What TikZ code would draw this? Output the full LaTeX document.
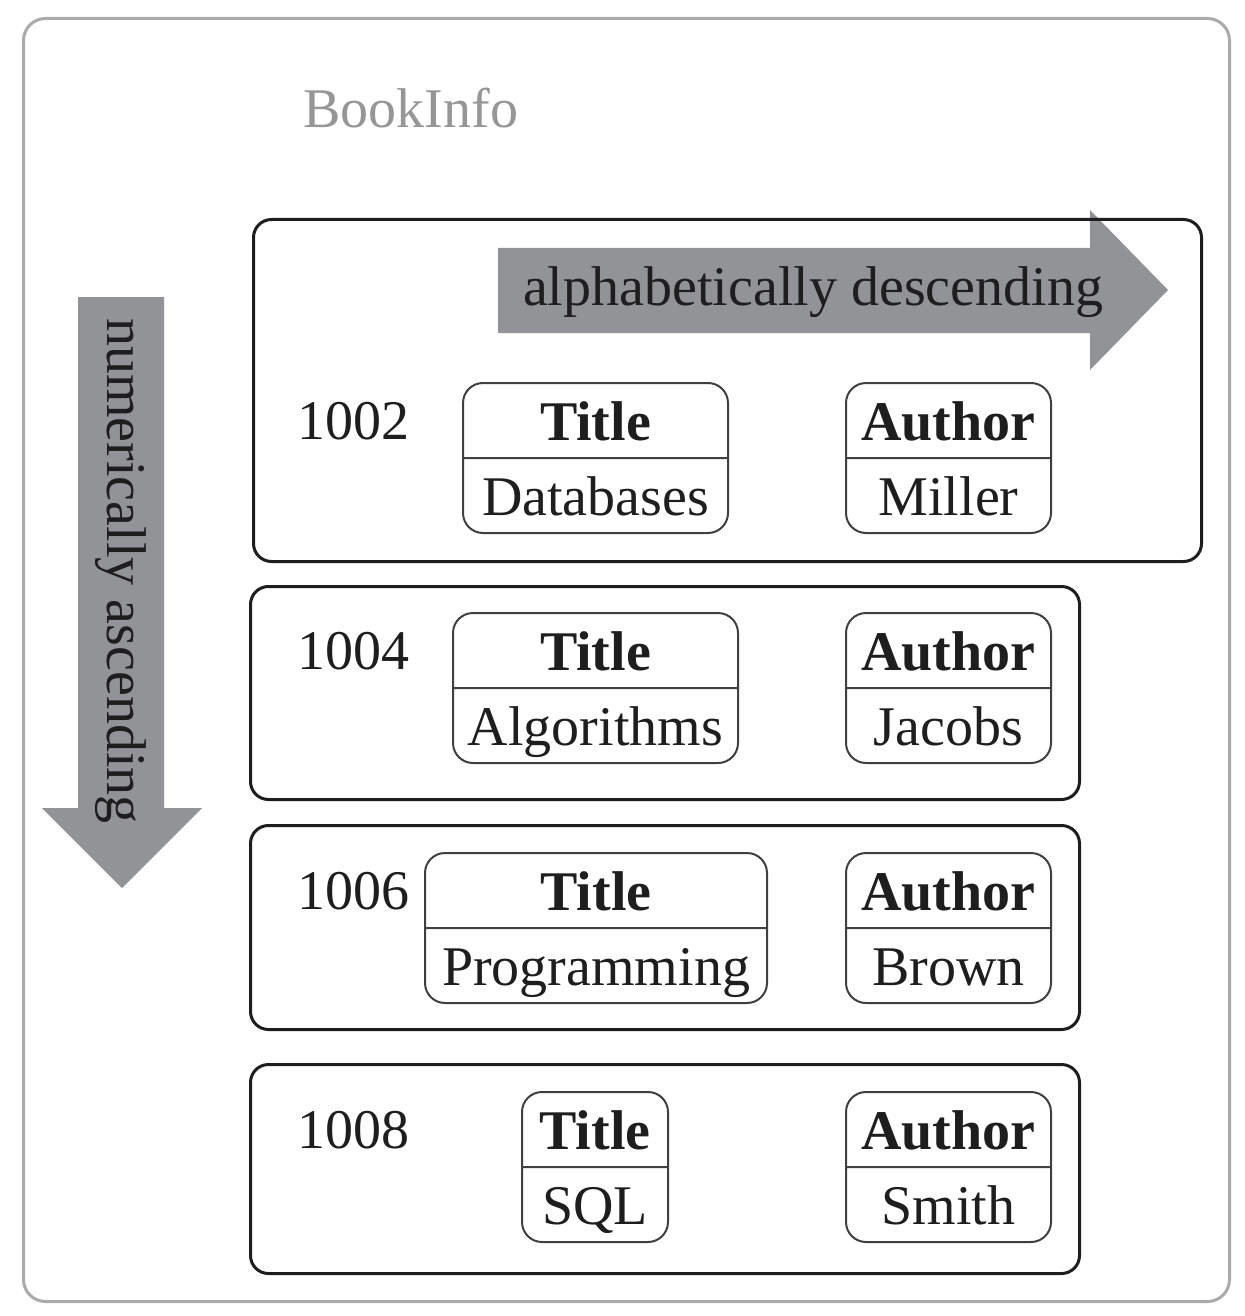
\documentclass[tikz,border=0pt]{standalone}
\usepackage{fontspec}
\setmainfont{Liberation Serif}
\usepackage{xcolor}
\usepackage{tikz}
\usetikzlibrary{positioning, shapes.multipart}

\definecolor{arrowgray}{RGB}{146,147,151}
\definecolor{framegray}{RGB}{170,170,170}
\definecolor{labelgray}{RGB}{150,150,150}
\definecolor{ink}{RGB}{30,30,30}

\newcommand{\fieldstrut}{\rule[-8.5pt]{0pt}{36.5pt}}

\begin{document}
\begin{tikzpicture}[
  x=0.5pt, y=-0.5pt,
  font=\fontsize{28}{32}\selectfont,
  outer/.style={draw=framegray, line width=1.5pt, rounded corners=11pt, anchor=north west, inner sep=0pt},
  record/.style={draw=ink, line width=1.5pt, rounded corners=9pt, anchor=north west, inner sep=0pt, minimum width=414.5pt},
  field/.style={rectangle split, rectangle split parts=2, draw=ink!85, line width=1pt,
    rounded corners=10pt, inner xsep=4pt, inner ysep=0pt, anchor=north west, text=ink},
  key/.style={anchor=base west, inner sep=0pt, text=ink},
  sortarrow/.style={fill=arrowgray},
  s/.style={inner sep=0pt, text=ink}
]
\useasboundingbox (0,0) rectangle (1245,1316);

% container
\node[outer, minimum width=603pt, minimum height=641.5pt] (bookinfo) at (22,17) {};
\node[key, text=labelgray] (name) at (303,128) {BookInfo};

% sort order arrows
\fill[sortarrow] (498,248) -- (1090,248) -- (1090,210) -- (1168,290) -- (1090,370) -- (1090,333) -- (498,333) -- cycle;
\node[s, anchor=base] (alpha) at (813,305) {alphabetically descending};
\fill[sortarrow] (78,297) -- (164,297) -- (164,808) -- (202,808) -- (122,888) -- (42,808) -- (78,808) -- cycle;
\node[s, rotate=-90] (num) at (121,571) {numerically ascending};

% records
\node[record, minimum width=474pt, minimum height=171pt] (r1) at (252,218) {};
\node[record, minimum height=106.5pt] (r2) at (249,585) {};
\node[record, minimum height=102pt] (r3) at (249,824) {};
\node[record, minimum height=104.5pt] (r4) at (249,1063) {};

\node[key] (k1) at (297,439) {1002};
\node[key] (k2) at (297,669) {1004};
\node[key] (k3) at (297,909) {1006};
\node[key] (k4) at (297,1148) {1008};

\node[field, minimum width=132.5pt] (t1) at (462,382)
  {\fieldstrut\textbf{Title}\nodepart{two}\fieldstrut Databases};
\node[field, minimum width=102.5pt] (a1) at (845,382)
  {\fieldstrut\textbf{Author}\nodepart{two}\fieldstrut Miller};

\node[field, minimum width=142.5pt] (t2) at (452,612)
  {\fieldstrut\textbf{Title}\nodepart{two}\fieldstrut Algorithms};
\node[field, minimum width=102.5pt] (a2) at (845,612)
  {\fieldstrut\textbf{Author}\nodepart{two}\fieldstrut Jacobs};

\node[field, minimum width=171pt] (t3) at (424,852)
  {\fieldstrut\textbf{Title}\nodepart{two}\fieldstrut Programming};
\node[field, minimum width=102.5pt] (a3) at (845,852)
  {\fieldstrut\textbf{Author}\nodepart{two}\fieldstrut Brown};

\node[field, minimum width=73pt] (t4) at (521,1091)
  {\fieldstrut\textbf{Title}\nodepart{two}\fieldstrut SQL};
\node[field, minimum width=102.5pt] (a4) at (845,1091)
  {\fieldstrut\textbf{Author}\nodepart{two}\fieldstrut Smith};
\end{tikzpicture}
\end{document}
